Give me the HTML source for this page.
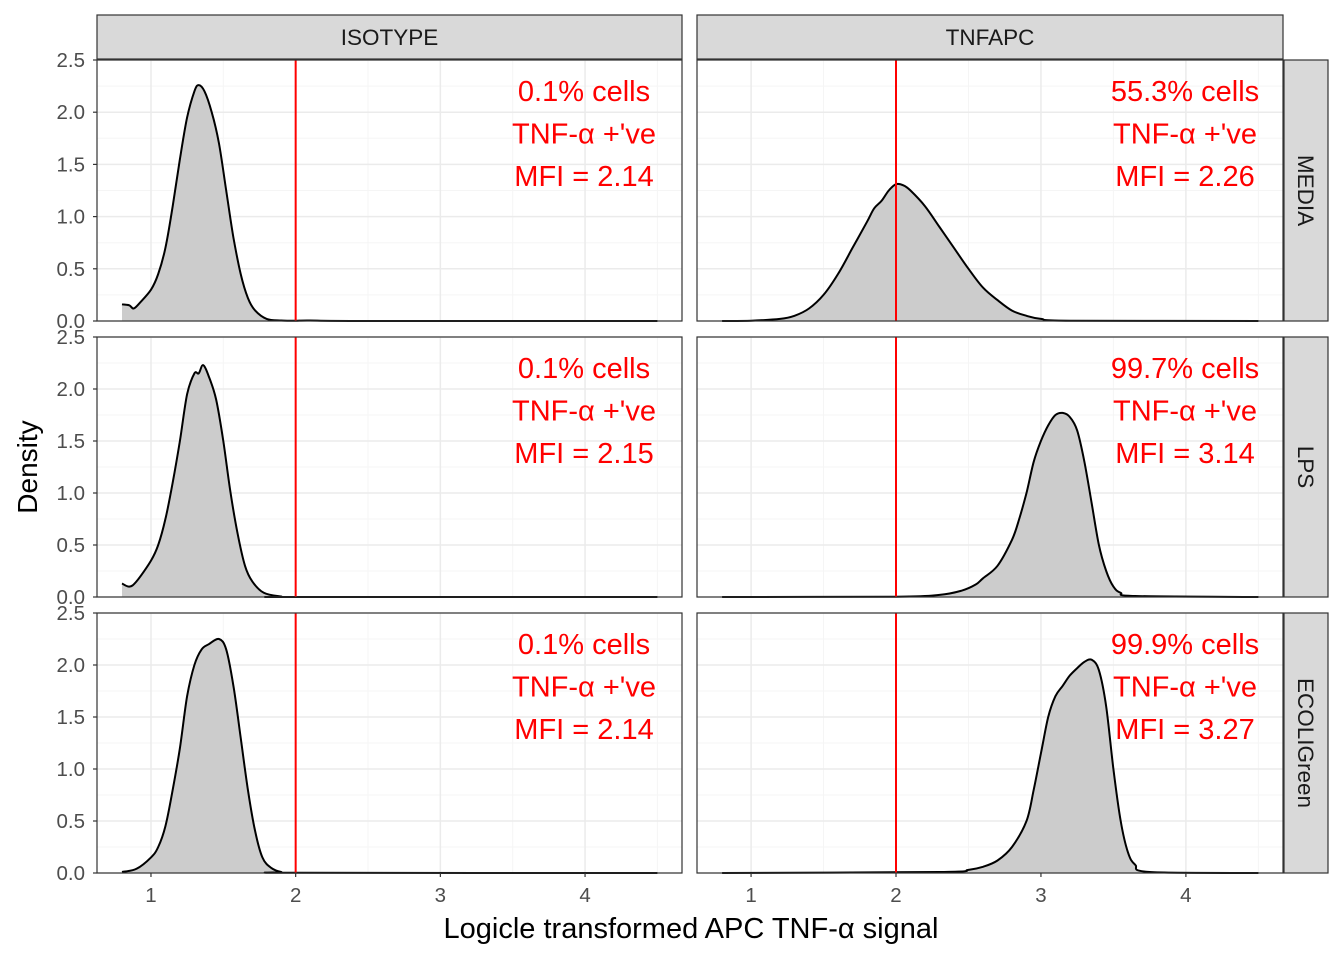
<!DOCTYPE html>
<html><head><meta charset="utf-8"><style>
html,body{margin:0;padding:0;background:#fff;}
svg{display:block;font-family:"Liberation Sans",sans-serif;}
</style></head><body>
<svg id="chart" width="1344" height="960" viewBox="0 0 1344 960"></svg>
<script>
const colFacets=["ISOTYPE","TNFAPC"];
const rowFacets=["MEDIA","LPS","ECOLIGreen"];
const xTicks=[1,2,3,4];
const yTicks=[0,0.5,1.0,1.5,2.0,2.5];
const yTickLabels=["0.0","0.5","1.0","1.5","2.0","2.5"];
const threshold=2;
const pctLabels=[["0.1%","55.3%"],["0.1%","99.7%"],["0.1%","99.9%"]];
const mfiLabels=[["2.14","2.26"],["2.15","3.14"],["2.14","3.27"]];
const isoMediaX=[0.8,0.85,0.88,0.92,1.0,1.05,1.1,1.15,1.2,1.25,1.3,1.33,1.37,1.42,1.47,1.52,1.57,1.62,1.67,1.72,1.8,1.9,2.0,2.1,2.5,4.5];
const isoMediaY=[0.16,0.15,0.12,0.17,0.3,0.45,0.7,1.1,1.55,1.95,2.2,2.26,2.2,2.0,1.7,1.25,0.8,0.45,0.22,0.1,0.02,0.005,0.002,0.005,0,0];
const isoLpsX=[0.8,0.85,0.9,1.0,1.05,1.1,1.15,1.2,1.25,1.3,1.33,1.36,1.4,1.45,1.5,1.55,1.6,1.65,1.7,1.78,1.9,2.0,4.5];
const isoLpsY=[0.13,0.1,0.15,0.35,0.5,0.75,1.1,1.5,1.95,2.15,2.15,2.23,2.12,1.9,1.5,1.0,0.6,0.3,0.15,0.04,0.005,0,0];
const isoEcoX=[0.8,0.9,1.0,1.05,1.1,1.15,1.2,1.25,1.3,1.35,1.4,1.47,1.52,1.57,1.62,1.67,1.72,1.77,1.83,1.9,2.0,4.5];
const isoEcoY=[0.01,0.04,0.15,0.25,0.45,0.8,1.2,1.7,2.0,2.15,2.2,2.25,2.15,1.8,1.3,0.8,0.4,0.15,0.05,0.01,0.002,0];
const tnfMediaX=[0.8,1.0,1.2,1.3,1.4,1.5,1.6,1.7,1.8,1.85,1.9,1.95,2.0,2.05,2.1,2.2,2.3,2.4,2.5,2.6,2.7,2.8,2.9,3.0,3.2,4.5];
const tnfMediaY=[0,0.003,0.02,0.05,0.12,0.25,0.45,0.7,0.95,1.08,1.15,1.25,1.31,1.3,1.25,1.1,0.9,0.7,0.5,0.32,0.2,0.1,0.05,0.02,0.003,0];
const tnfLpsX=[0.8,2.0,2.3,2.45,2.55,2.6,2.7,2.8,2.85,2.9,2.95,3.0,3.05,3.1,3.15,3.2,3.25,3.3,3.35,3.4,3.45,3.5,3.55,3.65,4.5];
const tnfLpsY=[0,0.003,0.02,0.06,0.12,0.18,0.3,0.55,0.75,1.0,1.3,1.5,1.65,1.75,1.77,1.73,1.6,1.3,0.9,0.5,0.25,0.1,0.04,0.01,0];
const tnfEcoX=[0.8,2.3,2.5,2.6,2.7,2.8,2.9,2.95,3.0,3.05,3.1,3.15,3.2,3.25,3.3,3.35,3.4,3.45,3.5,3.55,3.6,3.65,3.75,4.5];
const tnfEcoY=[0,0.01,0.03,0.06,0.12,0.25,0.5,0.8,1.15,1.5,1.7,1.8,1.9,1.97,2.03,2.05,1.95,1.6,1.0,0.5,0.2,0.08,0.01,0];
const series=[[[isoMediaX,isoMediaY],[tnfMediaX,tnfMediaY]],[[isoLpsX,isoLpsY],[tnfLpsX,tnfLpsY]],[[isoEcoX,isoEcoY],[tnfEcoX,tnfEcoY]]];

const NS="http://www.w3.org/2000/svg";
const svg=document.getElementById('chart');
function mk(tag,attrs,parent,text){const e=document.createElementNS(NS,tag);for(const k in attrs)e.setAttribute(k,attrs[k]);if(text!==undefined)e.textContent=text;(parent||svg).appendChild(e);return e;}
const panelX=[[97,682],[697,1283]];
const panelY=[[60,321],[337,597],[613,873]];
const xMin=0.627,xMax=4.67,yMax=2.5;
function sx(c,v){const [a,b]=panelX[c];return a+(v-xMin)/(xMax-xMin)*(b-a);}
function sy(r,v){const [a,b]=panelY[r];return b-v/yMax*(b-a);}
function smooth(pts){
  let d='';
  for(let i=0;i<pts.length-1;i++){
    const p0=pts[Math.max(0,i-1)],p1=pts[i],p2=pts[i+1],p3=pts[Math.min(pts.length-1,i+2)];
    const t=1/6;
    const c1=[p1[0]+(p2[0]-p0[0])*t,p1[1]+(p2[1]-p0[1])*t];
    const c2=[p2[0]-(p3[0]-p1[0])*t,p2[1]-(p3[1]-p1[1])*t];
    d+='C'+c1.map(v=>v.toFixed(1)).join(',')+' '+c2.map(v=>v.toFixed(1)).join(',')+' '+p2.map(v=>v.toFixed(1)).join(',');
  }
  return d;
}

for(let r=0;r<3;r++){for(let c=0;c<2;c++){
  const g=mk('g',{},svg);
  
  
  const [x0,x1]=panelX[c],[y0,y1]=panelY[r];
  mk('rect',{x:x0,y:y0,width:x1-x0,height:y1-y0,fill:'#fff'},g);
  for(let v=0.25;v<2.5;v+=0.5)mk('line',{x1:x0,x2:x1,y1:sy(r,v),y2:sy(r,v),stroke:'#F5F5F5','stroke-width':1},g);
  for(let v=1.5;v<=4.5;v+=1)mk('line',{x1:sx(c,v),x2:sx(c,v),y1:y0,y2:y1,stroke:'#F5F5F5','stroke-width':1},g);
  yTicks.forEach(v=>mk('line',{x1:x0,x2:x1,y1:sy(r,v),y2:sy(r,v),stroke:'#EBEBEB','stroke-width':1.5},g));
  xTicks.forEach(v=>mk('line',{x1:sx(c,v),x2:sx(c,v),y1:y0,y2:y1,stroke:'#EBEBEB','stroke-width':1.5},g));
  const [xs,ys]=series[r][c];
  const pts=xs.map((v,i)=>[sx(c,v),Math.min(sy(r,0),sy(r,ys[i]))]);
  const curve=smooth(pts);
  const start='M'+pts[0][0].toFixed(1)+','+pts[0][1].toFixed(1);
  const d='M'+pts[0][0].toFixed(1)+','+sy(r,0).toFixed(1)+'L'+pts[0][0].toFixed(1)+','+pts[0][1].toFixed(1)+curve+'L'+pts[pts.length-1][0].toFixed(1)+','+sy(r,0).toFixed(1)+'Z';
  const area=mk('path',{d:d,fill:'#CCCCCC'},g);
  
  
  const line=mk('path',{d:start+curve,fill:'none',stroke:'#000','stroke-width':2,'stroke-linejoin':'round'},g);
  
  
  const th=mk('line',{x1:sx(c,threshold),x2:sx(c,threshold),y1:y0,y2:y1,stroke:'#FF0000','stroke-width':2},g);
  
  
  const tx=c===0?584:1185;
  const lines=[pctLabels[r][c]+' cells',"TNF-\u03b1 +'ve",'MFI = '+mfiLabels[r][c]];
  lines.forEach((t,i)=>{const e=mk('text',{x:tx,y:y0+41+i*42.5,'text-anchor':'middle','font-size':29,fill:'#FF0000'},g,t);
    
    });
  mk('rect',{x:x0,y:y0,width:x1-x0,height:y1-y0,fill:'none',stroke:'#333','stroke-width':1.2},g);
  if(c===0){yTicks.forEach((v,i)=>{mk('line',{x1:x0-4,x2:x0,y1:sy(r,v),y2:sy(r,v),stroke:'#333','stroke-width':1.2},svg);
    const e=mk('text',{x:x0-12,y:sy(r,v)+7,'text-anchor':'end','font-size':20.5,fill:'#4D4D4D'},svg,yTickLabels[i]);
    
    });}
  if(r===2){xTicks.forEach(v=>{mk('line',{x1:sx(c,v),x2:sx(c,v),y1:y1,y2:y1+4,stroke:'#333','stroke-width':1.2},svg);
    const e=mk('text',{x:sx(c,v),y:y1+29,'text-anchor':'middle','font-size':20.5,fill:'#4D4D4D'},svg,String(v));
    
    });}
}}
colFacets.forEach((f,c)=>{const [x0,x1]=panelX[c];
  const g=mk('g',{},svg);
  
  
  mk('rect',{x:x0,y:15,width:x1-x0,height:44,fill:'#D9D9D9',stroke:'#333','stroke-width':1.2},g);
  mk('text',{x:(x0+x1)/2,y:45,'text-anchor':'middle','font-size':22.5,fill:'#1A1A1A'},g,f);});
rowFacets.forEach((f,r)=>{const [y0,y1]=panelY[r];
  const g=mk('g',{},svg);
  
  
  mk('rect',{x:1284,y:y0,width:44,height:y1-y0,fill:'#D9D9D9',stroke:'#333','stroke-width':1.2},g);
  const cy=(y0+y1)/2;
  mk('text',{x:1298,y:cy,'text-anchor':'middle','font-size':22.5,fill:'#1A1A1A',transform:'rotate(90 1298 '+cy+')'},g,f);});
const yt=mk('text',{x:37,y:467,'text-anchor':'middle','font-size':28,fill:'#000',transform:'rotate(-90 37 467)'},svg,'Density');


const xt=mk('text',{x:691,y:938,'text-anchor':'middle','font-size':29,fill:'#000'},svg,'Logicle transformed APC TNF-\u03b1 signal');


</script>
</body></html>
